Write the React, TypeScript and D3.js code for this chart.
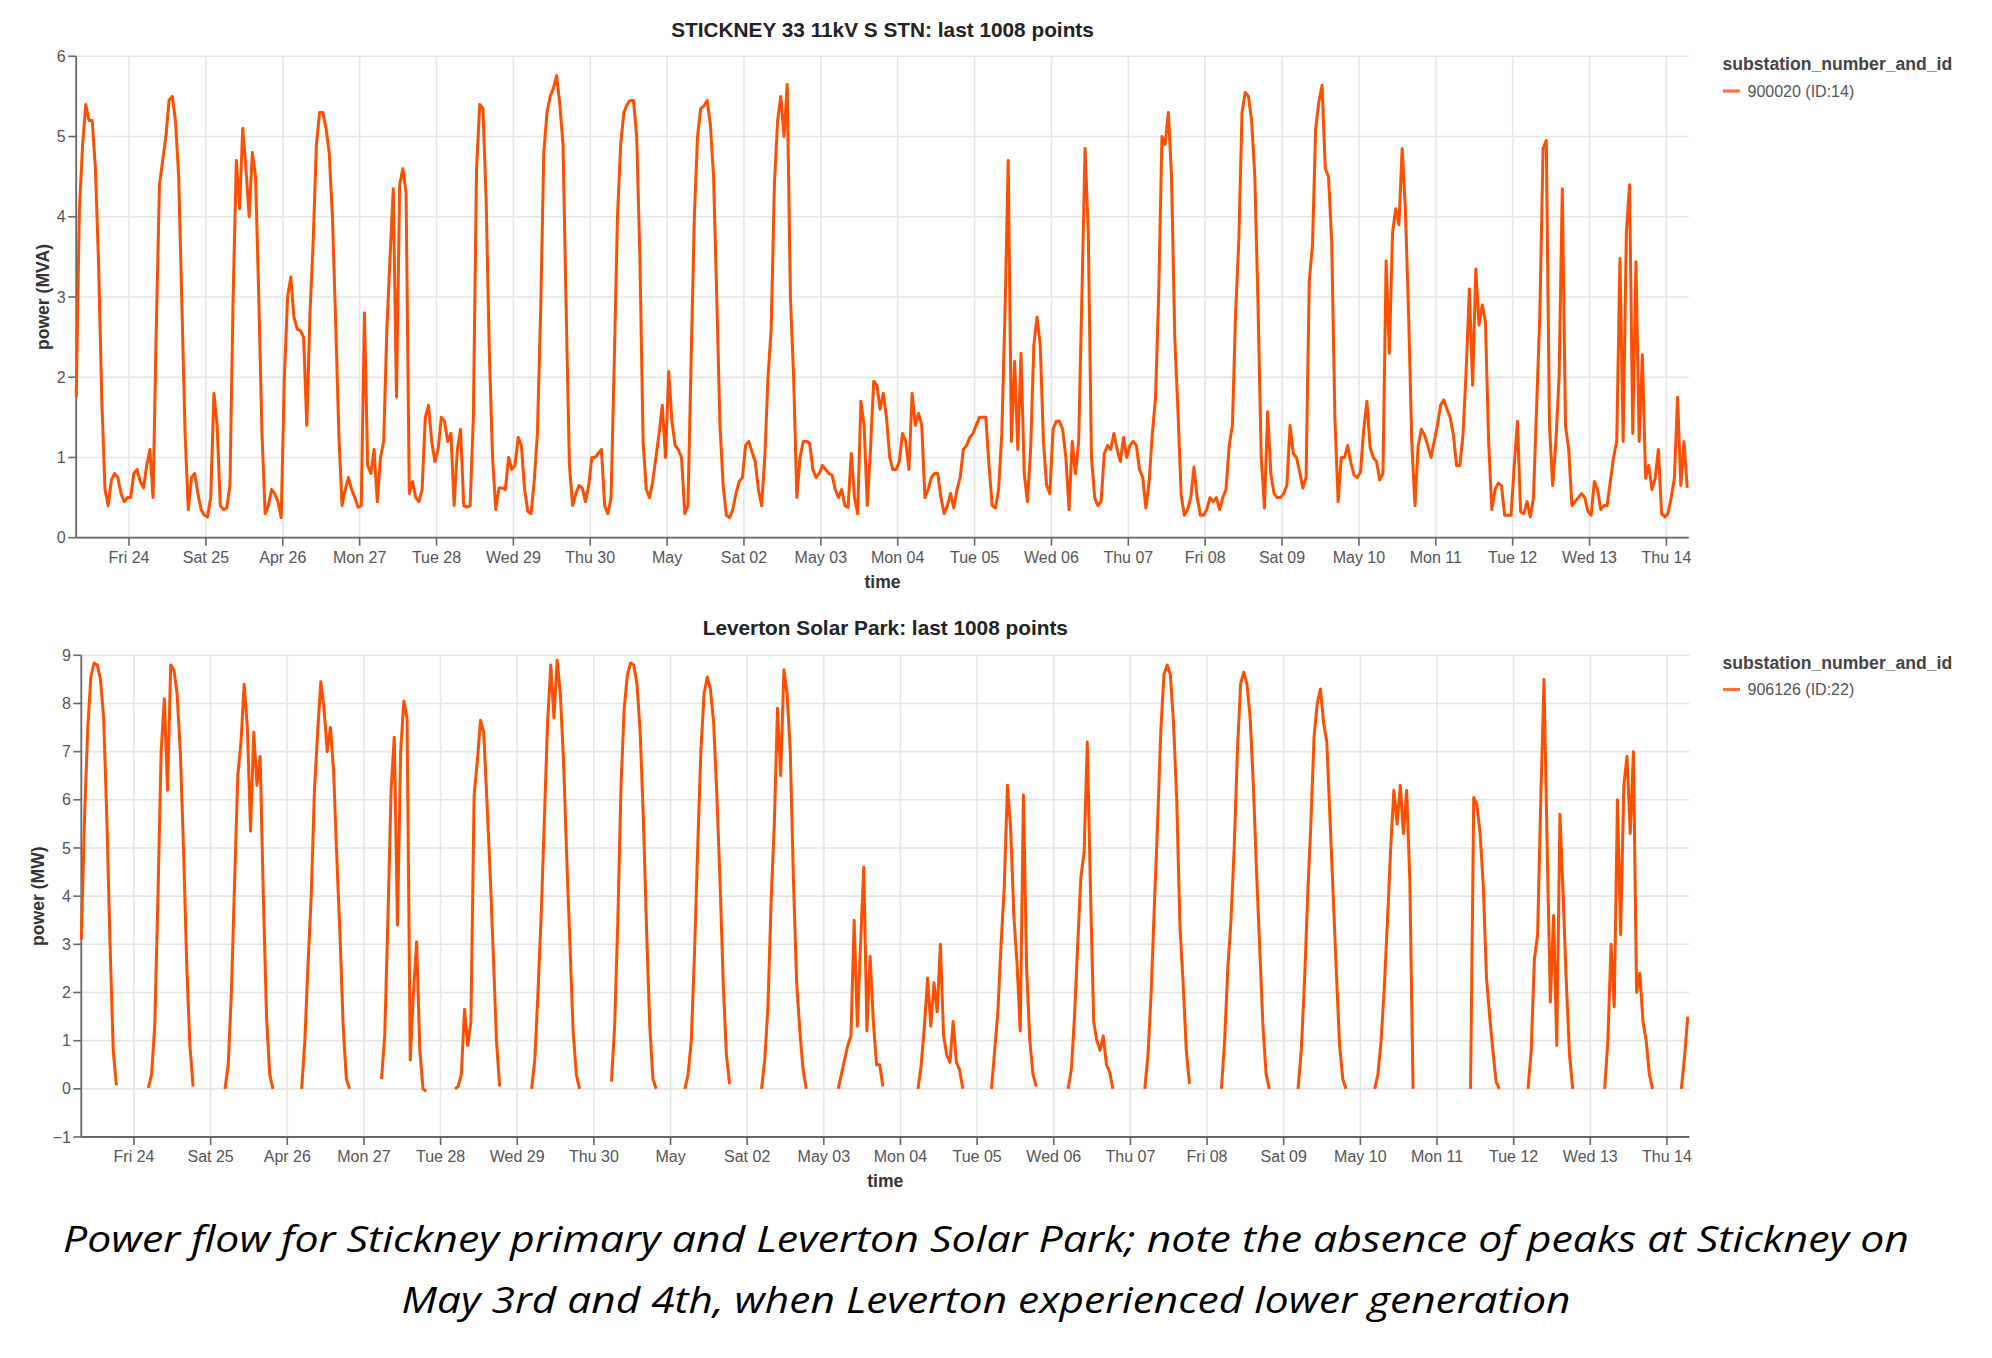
import React, { useRef, useEffect } from 'react'
import * as d3 from 'd3'

const _ = null

// hourly readings, first one at 07:30 on 23 Apr 2020
const firstSample = new Date(2020, 3, 23, 7, 30)
const lastSample = new Date(2020, 4, 14, 7, 0)

// STICKNEY 33 11kV S STN, MVA, one row per day
const stickneyMVA: number[][] = [
  [1.75, 4.1, 4.9, 5.4, 5.2, 5.2, 4.6, 3.4, 1.7, 0.6, 0.4, 0.72, 0.8, 0.75, 0.55, 0.45, 0.5],
  [0.5, 0.8, 0.85, 0.7, 0.62, 0.9, 1.1, 0.5, 2.6, 4.4, 4.7, 5.0, 5.45, 5.5, 5.2, 4.5, 2.9, 1.3, 0.35, 0.75, 0.8, 0.55, 0.35, 0.28],
  [0.26, 0.5, 1.8, 1.4, 0.4, 0.35, 0.37, 0.65, 3.0, 4.7, 4.1, 5.1, 4.6, 4.0, 4.8, 4.5, 3.0, 1.3, 0.3, 0.4, 0.6, 0.55, 0.45, 0.25],
  [2.0, 3.0, 3.25, 2.75, 2.6, 2.58, 2.5, 1.4, 2.8, 3.7, 4.9, 5.3, 5.3, 5.1, 4.8, 4.0, 2.7, 1.3, 0.4, 0.6, 0.75, 0.6, 0.5, 0.38],
  [0.4, 2.8, 0.9, 0.8, 1.1, 0.45, 1.0, 1.2, 2.6, 3.5, 4.35, 1.75, 4.4, 4.6, 4.3, 0.55, 0.7, 0.5, 0.45, 0.6, 1.5, 1.65, 1.2, 0.95],
  [1.1, 1.5, 1.45, 1.2, 1.3, 0.4, 1.1, 1.35, 0.4, 0.38, 0.4, 1.5, 4.6, 5.4, 5.35, 4.2, 2.3, 1.0, 0.35, 0.62, 0.62, 0.6, 1.0, 0.85],
  [0.9, 1.25, 1.15, 0.6, 0.33, 0.3, 0.7, 1.3, 2.8, 4.8, 5.3, 5.5, 5.6, 5.76, 5.4, 4.9, 2.8, 0.9, 0.4, 0.55, 0.65, 0.62, 0.45, 0.65],
  [1.0, 1.0, 1.05, 1.1, 0.4, 0.3, 0.5, 2.2, 4.0, 4.9, 5.3, 5.4, 5.45, 5.45, 5.0, 3.5, 1.2, 0.6, 0.5, 0.7, 1.0, 1.3, 1.65, 1.0],
  [2.07, 1.45, 1.15, 1.1, 1.0, 0.3, 0.4, 2.2, 4.0, 5.0, 5.35, 5.38, 5.45, 5.15, 4.5, 3.0, 1.4, 0.65, 0.28, 0.25, 0.35, 0.55, 0.7, 0.75],
  [1.15, 1.2, 1.07, 0.95, 0.6, 0.4, 1.0, 2.0, 2.6, 4.4, 5.2, 5.5, 5.0, 5.65, 3.0, 2.0, 0.5, 1.0, 1.2, 1.2, 1.18, 0.85, 0.75, 0.8],
  [0.9, 0.85, 0.8, 0.78, 0.6, 0.5, 0.6, 0.4, 0.38, 1.05, 0.5, 0.3, 1.7, 1.4, 0.4, 1.1, 1.95, 1.9, 1.6, 1.8, 1.5, 1.0, 0.85, 0.85],
  [0.95, 1.3, 1.2, 0.85, 1.8, 1.4, 1.55, 1.4, 0.5, 0.6, 0.75, 0.8, 0.8, 0.5, 0.3, 0.4, 0.55, 0.37, 0.6, 0.75, 1.1, 1.15, 1.25, 1.3],
  [1.4, 1.5, 1.5, 1.5, 0.9, 0.4, 0.37, 0.6, 1.3, 2.8, 4.7, 1.2, 2.2, 1.1, 2.3, 0.8, 0.45, 1.1, 2.4, 2.75, 2.4, 1.2, 0.65, 0.55],
  [1.35, 1.45, 1.45, 1.35, 1.0, 0.35, 1.2, 0.8, 1.2, 3.0, 4.85, 3.8, 1.0, 0.5, 0.4, 0.45, 1.05, 1.15, 1.1, 1.3, 1.1, 0.95, 1.25, 1.0],
  [1.15, 1.2, 1.15, 0.85, 0.75, 0.37, 0.7, 1.3, 1.74, 3.06, 5.0, 4.9, 5.3, 4.5, 2.5, 1.57, 0.53, 0.28, 0.35, 0.5, 0.88, 0.5, 0.28, 0.28],
  [0.35, 0.5, 0.45, 0.5, 0.35, 0.5, 0.6, 1.15, 1.4, 2.8, 3.7, 5.3, 5.55, 5.5, 5.2, 4.5, 2.9, 1.0, 0.37, 1.57, 0.8, 0.55, 0.5, 0.5],
  [0.55, 0.65, 1.4, 1.05, 1.0, 0.82, 0.62, 0.75, 3.2, 3.65, 5.1, 5.43, 5.64, 4.6, 4.5, 3.7, 1.5, 0.45, 1.0, 1.0, 1.15, 0.93, 0.78, 0.75],
  [0.82, 1.35, 1.7, 1.12, 1.0, 0.95, 0.72, 0.8, 3.45, 2.3, 3.8, 4.1, 3.9, 4.85, 4.1, 2.8, 1.2, 0.4, 1.15, 1.35, 1.28, 1.15, 1.0, 1.2],
  [1.4, 1.65, 1.72, 1.6, 1.5, 1.28, 0.9, 0.9, 1.28, 2.1, 3.1, 1.9, 3.35, 2.65, 2.9, 2.7, 1.2, 0.35, 0.6, 0.68, 0.65, 0.28, 0.28, 0.28],
  [0.9, 1.45, 0.32, 0.3, 0.45, 0.26, 0.5, 1.65, 2.8, 4.85, 4.95, 1.4, 0.65, 1.2, 2.0, 4.35, 1.4, 1.1, 0.4, 0.45, 0.5, 0.55, 0.5, 0.33],
  [0.28, 0.7, 0.6, 0.35, 0.4, 0.4, 0.7, 1.0, 1.2, 3.48, 1.2, 3.8, 4.4, 1.3, 3.44, 1.2, 2.28, 0.74, 0.9, 0.6, 0.74, 1.1, 0.3, 0.26],
  [0.3, 0.5, 0.74, 1.75, 0.65, 1.2, 0.62],
]

// Leverton Solar Park, MW, one row per day (no readings overnight)
const levertonMW: (number | null)[][] = [
  [3.1, 5.6, 7.45, 8.55, 8.84, 8.8, 8.5, 7.7, 5.6, 3.0, 0.8, 0.07, _, _, _, _, _],
  [_, _, _, _, 0.02, 0.3, 1.3, 4.0, 7.0, 8.1, 6.2, 8.8, 8.7, 8.2, 7.0, 5.0, 2.6, 0.9, 0.05, _, _, _, _, _],
  [_, _, _, _, 0.0, 0.5, 2.0, 4.3, 6.5, 7.2, 8.4, 7.5, 5.35, 7.4, 6.3, 6.9, 4.0, 1.5, 0.3, 0.0, _, _, _, _],
  [_, _, _, _, 0.0, 1.0, 2.6, 4.0, 6.2, 7.4, 8.45, 7.9, 7.0, 7.5, 6.6, 4.8, 3.2, 1.3, 0.2, 0.0, _, _, _, _],
  [_, _, _, _, _, 0.2, 1.1, 3.5, 6.2, 7.3, 3.4, 7.0, 8.05, 7.7, 0.6, 2.0, 3.05, 0.8, 0.0, -0.05, _, _, _, _],
  [_, _, _, _, 0.0, 0.05, 0.3, 1.65, 0.9, 1.4, 6.1, 6.8, 7.65, 7.4, 6.0, 4.5, 2.8, 1.0, 0.05, _, _, _, _, _],
  [_, _, _, _, 0.0, 0.6, 2.0, 3.6, 5.6, 7.6, 8.8, 7.7, 8.9, 8.2, 6.8, 4.8, 3.0, 1.2, 0.3, 0.0, _, _, _, _],
  [_, _, _, _, _, 0.15, 1.3, 3.5, 6.3, 7.9, 8.6, 8.84, 8.8, 8.4, 7.4, 5.6, 3.3, 1.3, 0.2, 0.0, _, _, _, _],
  [_, _, _, _, 0.0, 0.3, 1.0, 2.8, 5.0, 7.0, 8.2, 8.55, 8.3, 7.6, 6.1, 4.3, 2.2, 0.7, 0.1, _, _, _, _, _],
  [_, _, _, _, 0.0, 0.6, 1.7, 3.9, 5.5, 7.9, 6.5, 8.7, 8.2, 7.0, 4.3, 2.2, 1.2, 0.4, 0.0, _, _, _, _, _],
  [_, _, _, _, 0.0, 0.3, 0.6, 0.9, 1.1, 3.5, 1.3, 3.0, 4.6, 1.2, 2.75, 1.4, 0.5, 0.5, 0.05, _, _, _, _, _],
  [_, _, _, _, _, 0.0, 0.5, 1.3, 2.3, 1.3, 2.2, 1.6, 3.0, 1.1, 0.7, 0.55, 1.4, 0.55, 0.4, 0.0, _, _, _, _],
  [_, _, _, _, 0.0, 0.8, 1.6, 3.0, 4.2, 6.3, 5.4, 3.6, 2.6, 1.2, 6.1, 2.5, 1.0, 0.3, 0.05, _, _, _, _, _],
  [_, _, _, _, 0.0, 0.4, 1.5, 3.0, 4.4, 4.9, 7.2, 4.1, 1.4, 1.0, 0.8, 1.1, 0.5, 0.35, 0.0, _, _, _, _, _],
  [_, _, _, _, 0.0, 0.7, 2.0, 3.8, 5.5, 7.4, 8.6, 8.8, 8.6, 7.6, 6.0, 3.4, 2.2, 0.8, 0.1, _, _, _, _, _],
  [_, _, _, _, 0.0, 1.0, 2.5, 3.5, 5.0, 7.0, 8.4, 8.65, 8.4, 7.7, 6.3, 4.5, 2.9, 1.3, 0.3, 0.0, _, _, _, _],
  [_, _, _, _, 0.0, 0.8, 2.2, 4.0, 5.5, 7.3, 8.0, 8.3, 7.6, 7.2, 5.6, 4.0, 2.4, 0.9, 0.2, 0.0, _, _, _, _],
  [_, _, _, _, 0.0, 0.3, 1.0, 2.1, 3.5, 5.0, 6.2, 5.5, 6.3, 5.3, 6.2, 4.3, 0.0, _, _, _, _, _, _, _],
  [_, _, _, _, _, _, _, _, _, _, 0.0, 6.05, 5.9, 5.3, 4.2, 2.3, 1.5, 0.8, 0.15, 0.0, _, _, _, _],
  [_, _, _, _, 0.0, 0.8, 2.7, 3.2, 6.0, 8.5, 5.0, 1.8, 3.6, 0.9, 5.7, 4.0, 2.2, 0.7, 0.0, _, _, _, _, _],
  [_, _, _, _, 0.0, 1.0, 3.0, 1.7, 6.0, 3.2, 6.3, 6.9, 5.3, 7.0, 2.0, 2.4, 1.4, 1.0, 0.3, 0.0, _, _, _, _],
  [_, _, _, _, 0.0, 0.65, 1.5],
]

const stickneyTicks = [0, 1, 2, 3, 4, 5, 6]
const levertonTicks = [-1, 0, 1, 2, 3, 4, 5, 6, 7, 8, 9]

const captionLines = [
  'Power flow for Stickney primary and Leverton Solar Park; note the absence of peaks at Stickney on',
  'May 3rd and 4th, when Leverton experienced lower generation',
]
const captionWidths = [1846, 1169]

const lineColor = '#ff4f00'
const sans = '"Liberation Sans", Arial, sans-serif'

function toSeries(rows: (number | null)[][]) {
  return rows.flat().map((v, i) => ({ t: d3.timeHour.offset(firstSample, i), v }))
}

const panels = [
  {
    title: 'STICKNEY 33 11kV S STN: last 1008 points',
    yTitle: 'power (MVA)',
    legend: '900020 (ID:14)',
    data: toSeries(stickneyMVA),
    ticks: stickneyTicks,
    box: { l: 76.2, r: 1688.8, t: 56.3, b: 537.7 },
    titleY: 29.5, yTitleX: 42.4, tickLabelY: 557, timeY: 582, legendY: 64,
  },
  {
    title: 'Leverton Solar Park: last 1008 points',
    yTitle: 'power (MW)',
    legend: '906126 (ID:22)',
    data: toSeries(levertonMW),
    ticks: levertonTicks,
    box: { l: 81.3, r: 1689.3, t: 655.3, b: 1137 },
    titleY: 628, yTitleX: 38, tickLabelY: 1156, timeY: 1180.5, legendY: 662.5,
  },
]

export default function App() {
  const svgRef = useRef<SVGSVGElement>(null)

  useEffect(() => {
    if (!svgRef.current) return
    const svg = d3.select(svgRef.current)
    svg.selectAll('*').remove()

    panels.forEach(p => {
      const { l, r, t, b } = p.box
      const x = d3.scaleTime().domain([firstSample, lastSample]).range([l, r])
      const y = d3.scaleLinear().domain(d3.extent(p.ticks) as [number, number]).range([b, t])
      const days = x.ticks(d3.timeDay.every(1)!)
      const fmt = x.tickFormat()
      const g = svg.append('g')

      // grid
      g.append('g').selectAll('line').data(days).join('line')
        .attr('x1', d => x(d)).attr('x2', d => x(d)).attr('y1', t).attr('y2', b)
        .attr('stroke', '#e6e6e6').attr('stroke-width', 1.6)
      g.append('g').selectAll('line').data(p.ticks).join('line')
        .attr('x1', l).attr('x2', r).attr('y1', d => y(d)).attr('y2', d => y(d))
        .attr('stroke', '#e6e6e6').attr('stroke-width', 1.6)

      // axes
      g.append('line').attr('x1', l).attr('x2', r).attr('y1', b).attr('y2', b)
        .attr('stroke', '#666').attr('stroke-width', 1.8)
      g.append('line').attr('x1', l).attr('x2', l).attr('y1', t).attr('y2', b)
        .attr('stroke', '#666').attr('stroke-width', 1.8)
      g.append('g').selectAll('line').data(days).join('line')
        .attr('x1', d => x(d)).attr('x2', d => x(d)).attr('y1', b).attr('y2', b + 8)
        .attr('stroke', '#666').attr('stroke-width', 1.6)
      g.append('g').selectAll('line').data(p.ticks).join('line')
        .attr('x1', l - 8).attr('x2', l).attr('y1', d => y(d)).attr('y2', d => y(d))
        .attr('stroke', '#666').attr('stroke-width', 1.6)

      g.append('g').selectAll('text').data(days).join('text')
        .attr('x', d => x(d)).attr('y', p.tickLabelY).attr('dy', '0.35em')
        .attr('text-anchor', 'middle').attr('font-family', sans).attr('font-size', 16)
        .attr('fill', '#555').text(d => fmt(d))
      g.append('g').selectAll('text').data(p.ticks).join('text')
        .attr('x', l - 10.5).attr('y', d => y(d)).attr('dy', '0.35em')
        .attr('text-anchor', 'end').attr('font-family', sans).attr('font-size', 16)
        .attr('fill', '#555').text(d => d3.format('d')(d))

      g.append('text').attr('x', (l + r) / 2).attr('y', p.timeY).attr('dy', '0.35em')
        .attr('text-anchor', 'middle').attr('font-family', sans).attr('font-size', 17.6)
        .attr('font-weight', 'bold').attr('fill', '#333').text('time')
      g.append('text')
        .attr('transform', `translate(${p.yTitleX},${(t + b) / 2}) rotate(-90)`)
        .attr('dy', '0.35em').attr('text-anchor', 'middle').attr('font-family', sans)
        .attr('font-size', 17.6).attr('font-weight', 'bold').attr('fill', '#333')
        .text(p.yTitle)
      g.append('text').attr('x', (l + r) / 2).attr('y', p.titleY).attr('dy', '0.35em')
        .attr('text-anchor', 'middle').attr('font-family', sans).attr('font-size', 20.8)
        .attr('font-weight', 'bold').attr('fill', '#222').text(p.title)

      // series
      const line = d3.line<{ t: Date; v: number | null }>()
        .defined(d => d.v !== null)
        .x(d => x(d.t)).y(d => y(d.v as number))
      g.append('path').datum(p.data).attr('d', line)
        .attr('fill', 'none').attr('stroke', lineColor).attr('stroke-width', 3)
        .attr('stroke-linejoin', 'round')

      // legend
      const lg = g.append('g').attr('transform', `translate(1722.5,${p.legendY})`)
      lg.append('text').attr('dy', '0.35em').attr('font-family', sans).attr('font-size', 17.6)
        .attr('font-weight', 'bold').attr('fill', '#444').text('substation_number_and_id')
      lg.append('line').attr('x1', 0.5).attr('x2', 17.5).attr('y1', 27).attr('y2', 27)
        .attr('stroke', lineColor).attr('stroke-opacity', 0.8).attr('stroke-width', 3.2)
      lg.append('text').attr('x', 25).attr('y', 27).attr('dy', '0.35em')
        .attr('font-family', sans).attr('font-size', 16).attr('fill', '#555').text(p.legend)
    })

    svg.append('g').selectAll('text').data(captionLines).join('text')
      .attr('x', 986).attr('y', (d, i) => 1238.6 + i * 61).attr('dy', '0.35em')
      .attr('text-anchor', 'middle').attr('font-family', '"Open Sans", sans-serif')
      .attr('font-style', 'italic').attr('font-size', 37).attr('fill', '#000')
      .attr('textLength', (d, i) => captionWidths[i]).attr('lengthAdjust', 'spacingAndGlyphs')
      .text(d => d)
  }, [])

  return (
    <svg ref={svgRef} width={1992} height={1358}
      style={{ position: 'absolute', left: 0, top: 0, background: '#fff' }} />
  )
}
